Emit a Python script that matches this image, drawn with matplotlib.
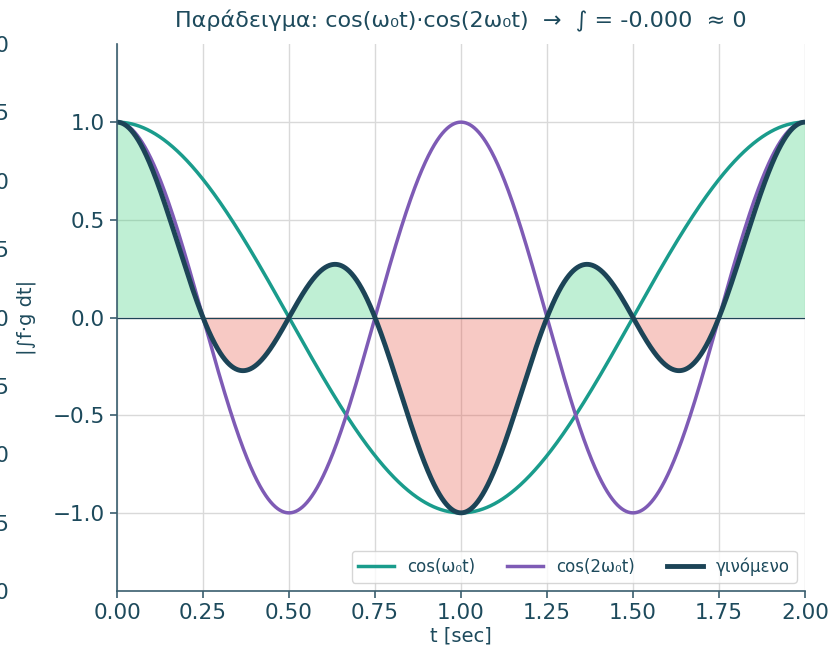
import numpy as np
import matplotlib
matplotlib.use("Agg")
import matplotlib.pyplot as plt

# --- data -------------------------------------------------------------
period = 2.0                      # seconds
harmonics = [1, 2]                # cos(k * w0 * t)
series_labels = ["cos(ω₀t)", "cos(2ω₀t)", "γινόμενο"]
integral_value = -0.0             # ∫ f·g dt over one period
x_ticks = [0.00, 0.25, 0.50, 0.75, 1.00, 1.25, 1.50, 1.75, 2.00]
y_ticks = [-1.0, -0.5, 0.0, 0.5, 1.0]
side_ticks = [0.00, 0.25, 0.50, 0.75, 1.00, 1.25, 1.50, 1.75, 2.00]

TEXT = "#1d4a5c"
SPINE = "#3a5e6e"
C_F = "#1a9c8c"
C_G = "#7e5bb5"
C_P = "#1c4457"
C_POS = "#2ecc71"
C_NEG = "#e74c3c"

w0 = 2 * np.pi / period
t = np.linspace(0, period, 2000)
f = np.cos(harmonics[0] * w0 * t)
g = np.cos(harmonics[1] * w0 * t)
p = f * g

plt.rcParams["font.family"] = ["DejaVu Sans"]
fig = plt.figure(figsize=(8.3, 6.54), dpi=100)
W, H = 830, 654
ax_bottom, ax_top = 591, 44          # pixel rows of the plotting area
ax_left, ax_right = 117, 805

# neighbouring panel: only its right-hand axis reaches into the figure
side_left_px, side_right_px = -330, -47
side = fig.add_axes([side_left_px / W, (H - ax_bottom) / H,
                     (side_right_px - side_left_px) / W, (ax_bottom - ax_top) / H])
side.set_ylim(0, 2.0)
side.set_yticks(side_ticks)
side.set_yticklabels([f"{v:.2f}" for v in side_ticks])
side.yaxis.tick_right()
side.yaxis.set_label_position("right")
side.set_xticks([])
for s in side.spines.values():
    s.set_visible(False)
side.tick_params(axis="y", colors=TEXT, labelsize=15.5, length=0, pad=6)
side.set_ylabel("|∫f·g dt|", fontsize=14, color=TEXT)
side.yaxis.set_label_coords((17 - side_left_px) / (side_right_px - side_left_px), 0.5)
side.patch.set_visible(False)

# main panel
ax = fig.add_axes([ax_left / W, (H - ax_bottom) / H,
                   (ax_right - ax_left) / W, (ax_bottom - ax_top) / H])
ax.fill_between(t, p, 0, where=p >= 0, color=C_POS, alpha=0.3, lw=0, interpolate=True)
ax.fill_between(t, p, 0, where=p <= 0, color=C_NEG, alpha=0.3, lw=0, interpolate=True)
ax.axhline(0, color=C_P, lw=0.9)
ax.plot(t, f, color=C_F, lw=2.5, label=series_labels[0])
ax.plot(t, g, color=C_G, lw=2.5, label=series_labels[1])
ax.plot(t, p, color=C_P, lw=3.5, label=series_labels[2])

ax.set_xlim(0, period)
ax.set_ylim(-1.4, 1.4)
ax.set_xticks(x_ticks)
ax.set_xticklabels([f"{v:.2f}" for v in x_ticks])
ax.set_yticks(y_ticks)
ax.set_yticklabels([f"{v:.1f}".replace("-", "\u2212") for v in y_ticks])
ax.grid(True, color="#d9d9d9", lw=1.0)
ax.set_axisbelow(True)
for side_name in ("top", "right"):
    ax.spines[side_name].set_visible(False)
for side_name in ("left", "bottom"):
    ax.spines[side_name].set_color(SPINE)
    ax.spines[side_name].set_linewidth(1.2)
ax.tick_params(colors=SPINE, labelcolor=TEXT, labelsize=15.5, length=5, width=1.2)
ax.set_xlabel("t [sec]", fontsize=14, color=TEXT, labelpad=3)
ax.set_title(f"Παράδειγμα: cos(ω₀t)·cos(2ω₀t)  →  ∫ = {integral_value:.3f}  ≈ 0",
             fontsize=16, color=TEXT, pad=12)

leg = ax.legend(loc="lower right", ncol=3, fontsize=12, frameon=True,
                borderpad=0.4, columnspacing=1.9, handlelength=2.15,
                handletextpad=0.8)
leg.get_frame().set_edgecolor("#cccccc")
for txt in leg.get_texts():
    txt.set_color(TEXT)

fig.savefig("out.png", dpi=100)
